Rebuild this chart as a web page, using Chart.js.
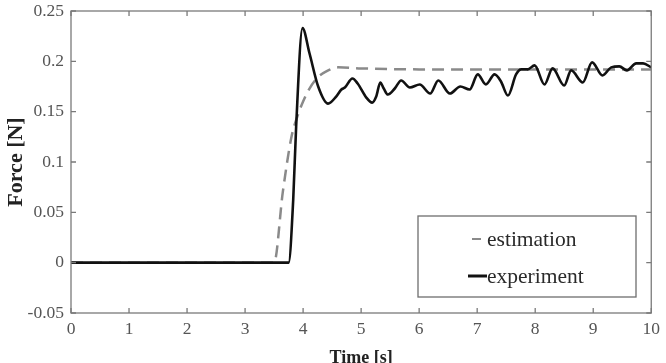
<!DOCTYPE html>
<html>
<head>
<meta charset="utf-8">
<script src="https://cdn.jsdelivr.net/npm/chart.js@4.4.1/dist/chart.umd.min.js"></script>
<style>
  html, body { margin: 0; padding: 0; background: #fff; }
  #wrap { width: 666px; height: 363px; }
</style>
</head>
<body>
<div id="wrap"><canvas id="forceChart" width="666" height="363"></canvas></div>
<script>
// Estimated force (dashed grey)
const estTime  = [0, 3.5, 3.65, 3.8, 3.9, 4.0, 4.1, 4.25, 4.4, 4.6, 5.0, 6.0, 8.0, 10.0];
const estForce = [0, 0, 0.07, 0.125, 0.145, 0.16, 0.172, 0.184, 0.19, 0.194, 0.193, 0.192, 0.192, 0.192];

// Measured force (solid black)
const expTime  = [0, 3.75, 3.83, 3.88, 3.99, 4.11, 4.26, 4.43, 4.57, 4.66, 4.72, 4.85, 4.94, 5.09, 5.19,
                  5.26, 5.33, 5.39, 5.46, 5.58, 5.69, 5.84, 6.01, 6.19, 6.33, 6.53, 6.71, 6.87, 7.01,
                  7.15, 7.30, 7.41, 7.53, 7.67, 7.76, 7.87, 7.99, 8.16, 8.30, 8.50, 8.62, 8.82, 8.98,
                  9.16, 9.31, 9.45, 9.58, 9.74, 9.86, 10.0];
const expForce = [0, 0, 0.063, 0.135, 0.233, 0.208, 0.175, 0.158, 0.165, 0.172, 0.174, 0.183, 0.178, 0.164, 0.159,
                  0.165, 0.179, 0.173, 0.167, 0.173, 0.181, 0.174, 0.177, 0.168, 0.181, 0.168, 0.175, 0.172, 0.187,
                  0.177, 0.187, 0.180, 0.166, 0.187, 0.192, 0.192, 0.196, 0.177, 0.193, 0.176, 0.191, 0.179, 0.199,
                  0.186, 0.194, 0.195, 0.191, 0.198, 0.198, 0.194];

const xTickLabels = ['0', '1', '2', '3', '4', '5', '6', '7', '8', '9', '10'];
const yTickLabels = ['-0.05', '0', '0.05', '0.1', '0.15', '0.2', '0.25'];

const serif = "'Liberation Serif', 'Times New Roman', serif";

function toPoints(xs, ys) {
    return xs.map((x, i) => ({ x: x, y: ys[i] }));
}

// box round the plot with inward ticks on all four sides
const boxPlugin = {
    id: 'box',
    afterDraw(chart) {
        const ctx = chart.ctx;
        const a = chart.chartArea;
        const xs = chart.scales.x, ys = chart.scales.y;
        const len = 5;
        ctx.save();
        ctx.strokeStyle = '#7a7a7a';
        ctx.lineWidth = 1.3;
        ctx.strokeRect(a.left, a.top, a.right - a.left, a.bottom - a.top);
        ctx.beginPath();
        xs.ticks.forEach(t => {
            const px = xs.getPixelForValue(t.value);
            ctx.moveTo(px, a.bottom); ctx.lineTo(px, a.bottom - len);
            ctx.moveTo(px, a.top); ctx.lineTo(px, a.top + len);
        });
        ys.ticks.forEach(t => {
            const py = ys.getPixelForValue(t.value);
            ctx.moveTo(a.left, py); ctx.lineTo(a.left + len, py);
            ctx.moveTo(a.right, py); ctx.lineTo(a.right - len, py);
        });
        ctx.stroke();
        ctx.restore();
    }
};

// legend drawn inside the plot, lower right
const legendPlugin = {
    id: 'insideLegend',
    afterDraw(chart) {
        const ctx = chart.ctx;
        const sets = chart.data.datasets;
        ctx.save();
        ctx.strokeStyle = '#6e6e6e';
        ctx.lineWidth = 1.3;
        ctx.fillStyle = '#fff';
        ctx.fillRect(418, 216, 218, 81);
        ctx.strokeRect(418, 216, 218, 81);

        ctx.font = '21.5px ' + serif;
        ctx.textBaseline = 'middle';
        ctx.fillStyle = '#2a2a2a';

        // estimation
        ctx.strokeStyle = sets[0].borderColor;
        ctx.lineWidth = 2;
        ctx.beginPath();
        ctx.moveTo(472, 239); ctx.lineTo(481, 239);
        ctx.stroke();
        ctx.fillText(sets[0].label, 487, 240);

        // experiment
        ctx.strokeStyle = sets[1].borderColor;
        ctx.lineWidth = 3;
        ctx.beginPath();
        ctx.moveTo(468, 276); ctx.lineTo(487, 276);
        ctx.stroke();
        ctx.fillText(sets[1].label, 487, 277);
        ctx.restore();
    }
};

new Chart(document.getElementById('forceChart'), {
    type: 'line',
    data: {
        datasets: [{
            label: 'estimation',
            data: toPoints(estTime, estForce),
            borderColor: '#8a8a8a',
            borderWidth: 2.5,
            borderDash: [12, 7],
            pointRadius: 0,
            cubicInterpolationMode: 'monotone',
            order: 2
        }, {
            label: 'experiment',
            data: toPoints(expTime, expForce),
            borderColor: '#111',
            borderWidth: 2.6,
            pointRadius: 0,
            cubicInterpolationMode: 'monotone',
            order: 1
        }]
    },
    options: {
        responsive: false,
        animation: false,
        devicePixelRatio: 1,
        layout: { padding: { left: 0, right: 14, top: 11, bottom: 0 } },
        plugins: {
            legend: { display: false },
            tooltip: { enabled: false }
        },
        scales: {
            x: {
                type: 'linear',
                min: 0,
                max: 10,
                grid: { display: false, drawTicks: false, tickLength: 0 },
                border: { display: false },
                ticks: {
                    stepSize: 1,
                    padding: 6,
                    color: '#555',
                    font: { family: serif, size: 17.5 },
                    maxRotation: 0,
                    callback: (v, i) => xTickLabels[i]
                },
                title: {
                    display: true,
                    text: 'Time [s]',
                    color: '#222',
                    font: { family: serif, size: 18, weight: 'bold', lineHeight: 1 },
                    padding: { top: 0, bottom: -4 }
                },
                afterFit: s => { s.height = 50; }
            },
            y: {
                min: -0.05,
                max: 0.25,
                grid: { display: false, drawTicks: false, tickLength: 0 },
                border: { display: false },
                ticks: {
                    stepSize: 0.05,
                    padding: 7,
                    color: '#555',
                    font: { family: serif, size: 17.5 },
                    callback: (v, i) => yTickLabels[i]
                },
                title: {
                    display: true,
                    text: 'Force [N]',
                    color: '#222',
                    font: { family: serif, size: 22, weight: 'bold', lineHeight: 1 },
                    padding: { top: 5, bottom: 0 }
                },
                afterFit: s => { s.width = 71; s.paddingTop = 0; s.paddingBottom = 0; }
            }
        }
    },
    plugins: [boxPlugin, legendPlugin]
});
</script>
</body>
</html>
